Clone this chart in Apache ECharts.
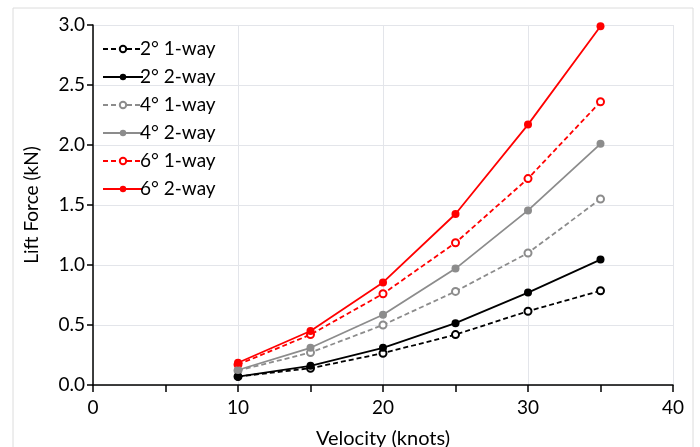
<!DOCTYPE html>
<html><head><meta charset="utf-8">
<script src="https://cdn.jsdelivr.net/npm/echarts@6/dist/echarts.min.js"></script>
<style>html,body{margin:0;padding:0;background:#fff}#c{width:700px;height:447px}</style>
</head><body><div id="c"></div>
<script>
const velocity = [10, 15, 20, 25, 30, 35];
const deg2oneWay = [0.07, 0.14, 0.265, 0.42, 0.615, 0.785];
const deg2twoWay = [0.07, 0.16, 0.31, 0.515, 0.77, 1.045];
const deg4oneWay = [0.12, 0.27, 0.50, 0.78, 1.10, 1.55];
const deg4twoWay = [0.125, 0.31, 0.585, 0.97, 1.455, 2.01];
const deg6oneWay = [0.17, 0.42, 0.76, 1.185, 1.72, 2.36];
const deg6twoWay = [0.185, 0.45, 0.855, 1.425, 2.17, 2.99];
const seriesNames = ['2° 1-way', '2° 2-way', '4° 1-way', '4° 2-way', '6° 1-way', '6° 2-way'];
const xTicks = [0, 10, 20, 30, 40];

const FONT = 'Lato';
function pairs(arr){ return velocity.map((v,i)=>[v, arr[i]]); }
function mk(name, arr, color, dashed){
  return {
    name, type:'line', data: pairs(arr),
    symbol: dashed ? 'emptyCircle' : 'circle',
    symbolSize: dashed ? 7 : 8,
    lineStyle:{color, width: 1.8, type: dashed ? [5,3] : 'solid'},
    itemStyle:{color, borderColor: color, borderWidth: dashed ? 1.6 : 0},
    z: dashed ? 2 : 3
  };
}
const chart = echarts.init(document.getElementById('c'));
chart.setOption({
  animation:false,
  graphic:[{type:'rect', shape:{x:13,y:8,width:680,height:460}, style:{fill:'none', stroke:'#dcdcdc', lineWidth:1}, silent:true}],
  grid:{left:93, right:27, top:25, bottom:62, containLabel:false, outerBoundsMode:'none'},
  legend:{
    data: seriesNames, orient:'vertical', left:97, top:33, itemGap:6, itemWidth:40, itemHeight:8,
    textStyle:{fontFamily:FONT, fontSize:19, lineHeight:22, color:'#000', padding:[0,0,0,-8]}
  },
  xAxis:{
    type:'value', min:0, max:40, interval:10,
    name:'Velocity (knots)', nameLocation:'middle', nameGap:44,
    nameTextStyle:{fontFamily:FONT, fontSize:20, color:'#000'},
    axisLine:{lineStyle:{color:'#000', width:1.5}},
    axisTick:{show:true, length:7, lineStyle:{color:'#000', width:1.5}},
    minorTick:{show:true, splitNumber:2, length:7, lineStyle:{color:'#000', width:1.5}},
    axisLabel:{fontFamily:FONT, fontSize:19, color:'#000', margin:13,
      formatter: v => xTicks.includes(v) ? String(v) : ''},
    splitLine:{show:true, lineStyle:{color:'#e3e5ea', width:1}}
  },
  yAxis:{
    type:'value', min:0, max:3, interval:0.5,
    name:'Lift Force (kN)', nameLocation:'middle', nameGap:52,
    nameTextStyle:{fontFamily:FONT, fontSize:19, color:'#000'},
    axisLine:{show:true, lineStyle:{color:'#000', width:1.5}},
    axisTick:{show:true, length:6, lineStyle:{color:'#000', width:1.5}},
    axisLabel:{fontFamily:FONT, fontSize:19, color:'#000', margin:8, formatter: v => v.toFixed(1)},
    splitLine:{show:true, lineStyle:{color:'#e3e5ea', width:1}}
  },
  series:[
    mk(seriesNames[0], deg2oneWay, '#000000', true),
    mk(seriesNames[1], deg2twoWay, '#000000', false),
    mk(seriesNames[2], deg4oneWay, '#8c8c8c', true),
    mk(seriesNames[3], deg4twoWay, '#8c8c8c', false),
    mk(seriesNames[4], deg6oneWay, '#ff0000', true),
    mk(seriesNames[5], deg6twoWay, '#ff0000', false)
  ]
});
</script></body></html>
